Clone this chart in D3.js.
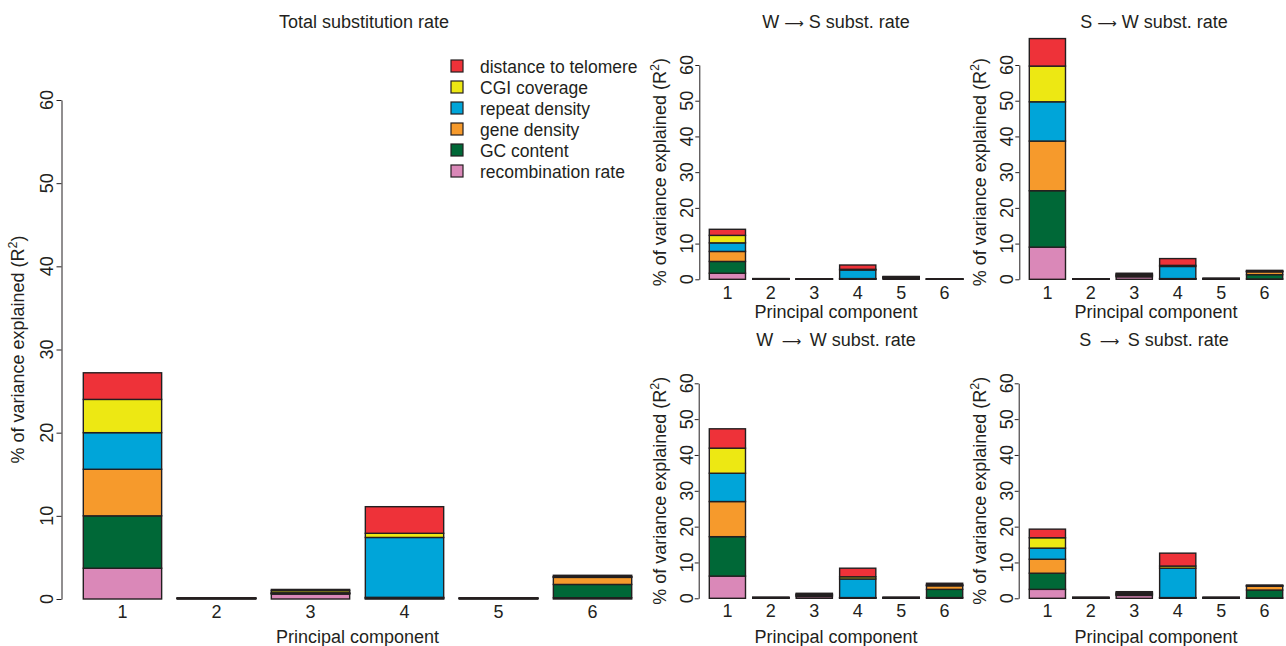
<!DOCTYPE html>
<html>
<head>
<meta charset="utf-8">
<script src="https://cdn.jsdelivr.net/npm/d3@7"></script>
<style>
  html, body { margin: 0; padding: 0; background: #fff; }
  svg { display: block; font-family: "Liberation Sans", Arial, Helvetica, sans-serif; }
  text { fill: #231f20; }
</style>
</head>
<body>
<svg id="fig" width="1286" height="646"></svg>
<script>
// Principal components and explanatory variables (stacked bottom to top)
const components = ["1", "2", "3", "4", "5", "6"];
const variables = ["recombination rate", "GC content", "gene density", "repeat density", "CGI coverage", "distance to telomere"];
const colors = ["#da88b8", "#006837", "#f69a2c", "#00a5d9", "#ede813", "#ee3239"];
const yTicks = [0, 10, 20, 30, 40, 50, 60];

// % of variance explained per component, one array per variable
// Total substitution rate
const totalRecomb   = [3.7, 0.03, 0.6, 0.05, 0.03, 0.15];
const totalGC       = [6.3, 0.03, 0.05, 0.1, 0.03, 1.6];
const totalGene     = [5.6, 0.02, 0.05, 0.05, 0.02, 0.85];
const totalRepeat   = [4.4, 0.02, 0.05, 7.2, 0.02, 0.05];
const totalCGI      = [4.0, 0.02, 0.25, 0.5, 0.02, 0.05];
const totalTelomere = [3.2, 0.02, 0.15, 3.2, 0.02, 0.15];

// W -> S substitution rate
const wsRecomb   = [1.7, 0.05, 0.02, 0.05, 0.2, 0.02];
const wsGC       = [3.3, 0.05, 0.02, 0.1, 0.2, 0.02];
const wsGene     = [2.8, 0.03, 0.02, 0.05, 0.1, 0.02];
const wsRepeat   = [2.4, 0.03, 0.02, 2.4, 0.1, 0.02];
const wsCGI      = [2.1, 0.02, 0.02, 0.2, 0.1, 0.02];
const wsTelomere = [1.7, 0.02, 0.02, 1.2, 0.1, 0.02];

// S -> W substitution rate
const swRecomb   = [9.0, 0.03, 0.7, 0.05, 0.05, 0.1];
const swGC       = [15.8, 0.03, 0.2, 0.1, 0.05, 1.2];
const swGene     = [13.9, 0.02, 0.2, 0.05, 0.05, 0.8];
const swRepeat   = [11.0, 0.02, 0.1, 3.4, 0.05, 0.1];
const swCGI      = [10.0, 0.02, 0.3, 0.3, 0.05, 0.1];
const swTelomere = [7.7, 0.02, 0.2, 1.9, 0.05, 0.2];

// W -> W substitution rate
const wwRecomb   = [6.2, 0.05, 0.5, 0.05, 0.05, 0.2];
const wwGC       = [11.0, 0.05, 0.2, 0.1, 0.05, 2.3];
const wwGene     = [9.8, 0.05, 0.2, 0.05, 0.05, 1.0];
const wwRepeat   = [7.9, 0.05, 0.1, 5.2, 0.05, 0.1];
const wwCGI      = [7.0, 0.05, 0.2, 0.6, 0.05, 0.2];
const wwTelomere = [5.4, 0.05, 0.2, 2.4, 0.05, 0.4];

// S -> S substitution rate
const ssRecomb   = [2.5, 0.05, 0.8, 0.05, 0.05, 0.1];
const ssGC       = [4.5, 0.05, 0.2, 0.1, 0.05, 2.2];
const ssGene     = [3.9, 0.05, 0.2, 0.05, 0.05, 1.1];
const ssRepeat   = [3.1, 0.05, 0.1, 8.2, 0.05, 0.05];
const ssCGI      = [2.9, 0.05, 0.3, 0.6, 0.05, 0.1];
const ssTelomere = [2.4, 0.05, 0.25, 3.6, 0.05, 0.15];

// titles: [left part, right part] around a substitution arrow (null = plain title)
const panels = [
  { title: ["Total substitution rate", null], gap: "",
    series: [totalRecomb, totalGC, totalGene, totalRepeat, totalCGI, totalTelomere],
    x0: 83.3, x1: 631.7, y0: 599, y60: 100, axisX: 61.5, fs: 18,
    titleX: 364, titleY: 28, tickLabelX: 53, yLabelX: 24,
    xTickY: 618, xLabelY: 643, tick: 5 },
  { title: ["W", "S subst. rate"], gap: " ",
    series: [wsRecomb, wsGC, wsGene, wsRepeat, wsCGI, wsTelomere],
    x0: 709.3, x1: 962.7, y0: 279.3, y60: 65, axisX: 699.3, fs: 18,
    titleX: 836, titleY: 28, tickLabelX: 693, yLabelX: 666,
    xTickY: 299, xLabelY: 318, tick: 4 },
  { title: ["S", "W subst. rate"], gap: " ",
    series: [swRecomb, swGC, swGene, swRepeat, swCGI, swTelomere],
    x0: 1029.3, x1: 1282.7, y0: 279.3, y60: 65, axisX: 1019.3, fs: 18,
    titleX: 1154, titleY: 28, tickLabelX: 1013, yLabelX: 986,
    xTickY: 299, xLabelY: 318, tick: 4 },
  { title: ["W", "W subst. rate"], gap: " \u2009",
    series: [wwRecomb, wwGC, wwGene, wwRepeat, wwCGI, wwTelomere],
    x0: 709.3, x1: 962.7, y0: 598.3, y60: 383.3, axisX: 698.7, fs: 18,
    titleX: 836, titleY: 346, tickLabelX: 693, yLabelX: 666,
    xTickY: 617, xLabelY: 643, tick: 4 },
  { title: ["S", "S subst. rate"], gap: " \u2009",
    series: [ssRecomb, ssGC, ssGene, ssRepeat, ssCGI, ssTelomere],
    x0: 1029.3, x1: 1282.7, y0: 598.3, y60: 383.3, axisX: 1018.7, fs: 18,
    titleX: 1154, titleY: 346, tickLabelX: 1013, yLabelX: 986,
    xTickY: 617, xLabelY: 643, tick: 4 }
];

const svg = d3.select("#fig");

function drawPanel(p) {
  const g = svg.append("g");
  const x = d3.scaleBand().domain(components).range([p.x0, p.x1])
    .paddingInner(0.2 / 1.2).paddingOuter(0);
  const y = d3.scaleLinear().domain([0, 60]).range([p.y0, p.y60]);

  // stacked table: one row per component
  const rows = components.map((c, i) => {
    const r = { comp: c };
    variables.forEach((v, k) => { r[v] = p.series[k][i]; });
    return r;
  });
  const stacked = d3.stack().keys(variables)(rows);

  g.selectAll("g.layer").data(stacked).join("g")
    .attr("class", "layer")
    .attr("fill", (d, k) => colors[k])
    .selectAll("rect").data(d => d).join("rect")
      .attr("x", d => x(d.data.comp))
      .attr("width", x.bandwidth())
      .attr("y", d => y(d[1]))
      .attr("height", d => y(d[0]) - y(d[1]))
      .attr("stroke", "#231f20")
      .attr("stroke-width", 1.4);

  // y axis
  const ax = g.append("g")
    .attr("transform", `translate(${p.axisX},0)`)
    .call(d3.axisLeft(y).tickValues(yTicks).tickSize(p.tick).tickSizeOuter(0).tickFormat(d3.format("d")));
  ax.select(".domain").attr("stroke", "#231f20").attr("stroke-width", 1);
  ax.selectAll(".tick line").attr("stroke", "#231f20").attr("stroke-width", 1);
  ax.selectAll(".tick text").remove();

  g.selectAll("text.ytick").data(yTicks).join("text")
    .attr("class", "ytick")
    .attr("transform", d => `translate(${p.tickLabelX},${y(d)}) rotate(-90)`)
    .attr("text-anchor", "middle")
    .attr("font-size", p.fs)
    .text(d => d);

  // x tick labels (no axis line)
  g.selectAll("text.xtick").data(components).join("text")
    .attr("class", "xtick")
    .attr("x", d => x(d) + x.bandwidth() / 2)
    .attr("y", p.xTickY)
    .attr("text-anchor", "middle")
    .attr("font-size", p.fs)
    .text(d => d);

  // axis titles
  const yl = g.append("text")
    .attr("transform", `translate(${p.yLabelX},${(p.y0 + p.y60) / 2}) rotate(-90)`)
    .attr("text-anchor", "middle")
    .attr("font-size", p.fs);
  yl.append("tspan").text("% of variance explained (R");
  yl.append("tspan").attr("font-size", p.fs * 0.7).attr("dy", -7).text("2");
  yl.append("tspan").attr("dy", 7).text(")");

  g.append("text")
    .attr("x", (p.x0 + p.x1) / 2)
    .attr("y", p.xLabelY)
    .attr("text-anchor", "middle")
    .attr("font-size", p.fs)
    .text("Principal component");

  // panel title, with a long arrow for substitution direction
  const t = g.append("text")
    .attr("x", p.titleX)
    .attr("y", p.titleY)
    .attr("text-anchor", "middle")
    .attr("font-size", p.fs)
    .attr("xml:space", "preserve");
  t.append("tspan").text(p.title[0]);
  if (p.title[1] !== null) {
    t.append("tspan").text(p.gap);
    t.append("tspan").attr("font-family", "'DejaVu Sans', sans-serif").attr("font-size", p.fs * 0.75).text("\u27f6");
    t.append("tspan").text(p.gap + p.title[1]);
  }
}

panels.forEach(drawPanel);

// legend (top entry = top of stack)
const legendOrder = variables.map((v, k) => ({ v, c: colors[k] })).reverse();
const lg = svg.append("g").attr("transform", "translate(451,60)");
const items = lg.selectAll("g").data(legendOrder).join("g")
  .attr("transform", (d, i) => `translate(0,${i * 21})`);
items.append("rect")
  .attr("width", 12).attr("height", 12)
  .attr("fill", d => d.c)
  .attr("stroke", "#231f20").attr("stroke-width", 1.2);
items.append("text")
  .attr("x", 29).attr("y", 12.5)
  .attr("font-size", 17.5)
  .text(d => d.v);
</script>
</body>
</html>
